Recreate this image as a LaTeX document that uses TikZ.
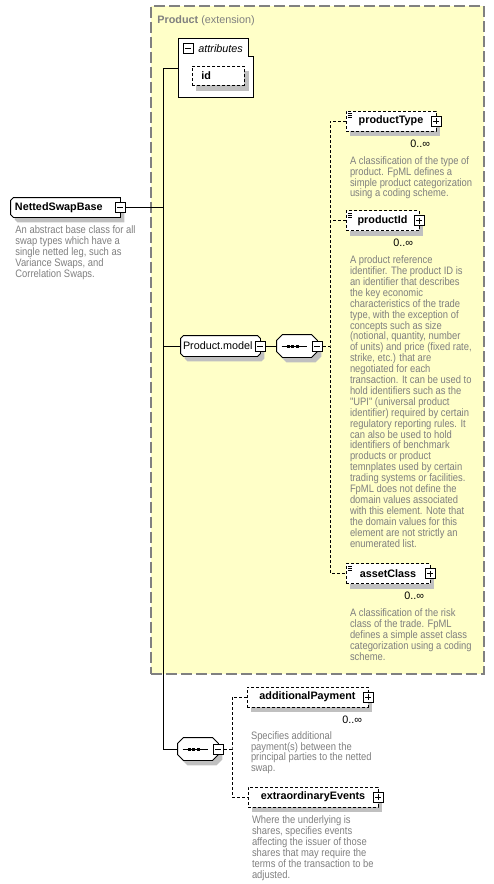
\documentclass[tikz,border=0pt]{standalone}
\usepackage{fontspec}
\setmainfont{Liberation Sans}
\newfontfamily\docfont{Liberation Sans}[FakeStretch=0.87]
\usetikzlibrary{positioning,backgrounds}

\definecolor{grpyellow}{HTML}{FFFFC8}
\definecolor{grpborder}{HTML}{808080}
\definecolor{docgray}{HTML}{7F7F7F}
\definecolor{shadegray}{HTML}{C0C0C0}

% outline with cut corners: node, left cut, right cut
\newcommand{\chamferpath}[3]{([xshift=#2]#1.north west) -- ([xshift=-#3]#1.north east) -- ([yshift=-#3]#1.north east) -- ([yshift=#3]#1.south east) -- ([xshift=-#3]#1.south east) -- ([xshift=#2]#1.south west) -- ([yshift=#2]#1.south west) -- ([yshift=-#2]#1.north west) -- cycle}
\newcommand{\chamferbox}[3]{%
    \fill[shadegray, transform canvas={shift={(4pt,-5pt)}}] \chamferpath{#1}{#2}{#3};
    \draw[fill=white, line width=0.9pt] \chamferpath{#1}{#2}{#3};}
\newcommand{\boxshade}[1]{\fill[shadegray] ([shift={(4pt,-5pt)}]#1.north west) rectangle ([shift={(4pt,-5pt)}]#1.south east);}

\begin{document}
\begin{tikzpicture}[x=1pt, y=-1pt, font=\fontsize{10.8}{12}\selectfont, line width=0.9pt]
    % Define styles
    \tikzstyle{elem}=[rectangle, draw=black, fill=white, dash pattern=on 3pt off 2pt, inner sep=0pt, minimum height=20pt, font=\fontsize{10.8}{12}\selectfont\bfseries]
    \tikzstyle{typebox}=[rectangle, inner sep=0pt, minimum height=20pt, align=left]
    \tikzstyle{seqbox}=[rectangle, inner sep=0pt, minimum width=40pt, minimum height=22pt]
    \tikzstyle{minusbox}=[rectangle, draw=black, solid, fill=white, minimum size=10pt, inner sep=0pt,
        path picture={\draw[line width=1pt] ([xshift=2pt]path picture bounding box.west) -- ([xshift=-2pt]path picture bounding box.east);}]
    \tikzstyle{plusbox}=[minusbox,
        path picture={\draw[line width=1pt] ([xshift=2pt]path picture bounding box.west) -- ([xshift=-2pt]path picture bounding box.east);
            \draw[line width=1pt] ([yshift=-2pt]path picture bounding box.north) -- ([yshift=2pt]path picture bounding box.south);}]
    \tikzstyle{simpleicon}=[path picture={\foreach \k in {2.5,4.5,6.5} \draw[solid, line width=0.7pt] ([shift={(2pt,-\k pt)}]path picture bounding box.north west) -- ++(4pt,0pt);}]
    \tikzstyle{desc}=[text=docgray, align=left, inner sep=0pt, font=\docfont\fontsize{10.8}{10.9}\selectfont]
    \tikzstyle{mult}=[inner sep=0pt, font=\fontsize{10.8}{12}\selectfont]
    \tikzstyle{conn}=[draw=black, line width=0.9pt]
    \tikzstyle{optconn}=[conn, dash pattern=on 3pt off 2pt]

    \useasboundingbox (0,0) rectangle (494,884);

    % Product extension area
    \begin{scope}[on background layer]
        \node[draw=grpborder, fill=grpyellow, line width=1.5pt, dash pattern=on 11pt off 4pt, minimum width=333pt, minimum height=668pt, anchor=north west, inner sep=0pt] (grp) at (150,5) {};
        \draw[fill=white] (178,38) -- (248,38) -- (248,56) -- (253,56) -- (253,97) -- (178,97) -- cycle;
    \end{scope}
    \node[anchor=base west, text=docgray, inner sep=0pt] (grptitle) at (157,23.3) {\textbf{Product} (extension)};

    % Attributes
    \node[minusbox] (attrm) at (188,48) {};
    \node[anchor=base west, inner sep=0pt, font=\fontsize{10.8}{12}\selectfont\itshape] (attrlbl) at (198,52.5) {attributes};
    \node[elem, minimum width=52pt, minimum height=19pt, text width=34pt, inner xsep=9pt, align=left, anchor=north west] (idattr) at (192,66) {id};

    % Base type
    \node[typebox, minimum width=109pt, minimum height=19pt, text width=101pt, inner xsep=4pt, font=\fontsize{10.8}{12}\selectfont\bfseries] (nsb) at (65.5,207.5) {NettedSwapBase};
    \node[minusbox] (nsbm) at (nsb.east) {};
    \node[desc, anchor=north west] (nsbdoc) at (15,225.4) {An abstract base class for all\\swap types which have a\\single netted leg, such as\\Variance Swaps, and\\Correlation Swaps.};

    % Product.model group
    \node[typebox, minimum width=79pt, text width=75pt, inner xsep=2pt] (pm) at (220.5,346) {Product.model};
    \node[minusbox] (pmm) at (pm.east) {};
    \node[seqbox] (seq1) at (297,346) {};
    \node[minusbox] (seq1m) at (seq1.east) {};

    \node[elem, simpleicon, minimum width=90pt] (ptype) at (391,121) {productType};
    \node[plusbox] (ptypep) at (ptype.east) {};
    \node[mult, below left=8pt and 6pt of ptype.south east] (ptypemult) {0..∞};
    \node[desc, below right=24.5pt and 4pt of ptype.south west] (ptypedoc) {A classification of the type of\\product. FpML defines a\\simple product categorization\\using a coding scheme.};

    \node[elem, simpleicon, minimum width=73pt] (pid) at (382.5,220.5) {productId};
    \node[plusbox] (pidp) at (pid.east) {};
    \node[mult, below left=8pt and 6pt of pid.south east] (pidmult) {0..∞};
    \node[desc, below right=24.4pt and 4pt of pid.south west] (piddoc) {A product reference\\identifier. The product ID is\\an identifier that describes\\the key economic\\characteristics of the trade\\type, with the exception of\\concepts such as size\\(notional, quantity, number\\of units) and price (fixed rate,\\strike, etc.) that are\\negotiated for each\\transaction. It can be used to\\hold identifiers such as the\\"UPI" (universal product\\identifier) required by certain\\regulatory reporting rules. It\\can also be used to hold\\identifiers of benchmark\\products or product\\temnplates used by certain\\trading systems or facilities.\\FpML does not define the\\domain values associated\\with this element. Note that\\the domain values for this\\element are not strictly an\\enumerated list.};

    \node[elem, simpleicon, minimum width=84pt] (aclass) at (388,573.5) {assetClass};
    \node[plusbox] (aclassp) at (aclass.east) {};
    \node[mult, below left=8pt and 6pt of aclass.south east] (aclassmult) {0..∞};
    \node[desc, below right=24.4pt and 4pt of aclass.south west] (aclassdoc) {A classification of the risk\\class of the trade. FpML\\defines a simple asset class\\categorization using a coding\\scheme.};

    % Own sequence
    \node[seqbox] (seq2) at (198,749) {};
    \node[minusbox] (seq2m) at (seq2.east) {};

    \node[elem, minimum width=121pt] (addpay) at (307.5,697) {additionalPayment};
    \node[plusbox] (addpayp) at (addpay.east) {};
    \node[mult, below left=8pt and 6pt of addpay.south east] (addpaymult) {0..∞};
    \node[desc, below right=23.4pt and 4pt of addpay.south west] (addpaydoc) {Specifies additional\\payment(s) between the\\principal parties to the netted\\swap.};

    \node[elem, minimum width=130pt] (extra) at (313,797) {extraordinaryEvents};
    \node[plusbox] (extrap) at (extra.east) {};
    \node[desc, below right=7.8pt and 4pt of extra.south west] (extradoc) {Where the underlying is\\shares, specifies events\\affecting the issuer of those\\shares that may require the\\terms of the transaction to be\\adjusted.};

    % Outlines and shadows
    \begin{scope}[on background layer]
        \boxshade{idattr}
        \boxshade{ptype}
        \boxshade{pid}
        \boxshade{aclass}
        \boxshade{addpay}
        \boxshade{extra}
        \chamferbox{nsb}{3pt}{0pt}
        \chamferbox{pm}{3pt}{3pt}
        \chamferbox{seq1}{6pt}{6pt}
        \chamferbox{seq2}{6pt}{6pt}
    \end{scope}

    % Sequence marks
    \foreach \s in {seq1,seq2} {
        \draw[line width=1pt] ([xshift=5pt]\s.west) -- ([xshift=-10pt]\s.east);
        \foreach \d in {-9,-4.5,0}
            \fill ([xshift=\d pt]\s.center) ++(-1.5pt,-1.5pt) rectangle ++(3pt,3pt);
    }

    % Connections
    \coordinate (trunk) at (163,68);
    \coordinate (attrin) at (178,68);
    \coordinate (bus1) at (330,346);
    \coordinate (bus2) at (232,749);
    \draw[conn] (trunk) -- (attrin);
    \draw[conn] (trunk) |- (seq2.west);
    \draw[conn] (nsbm.east) -- (nsbm.east -| trunk);
    \draw[conn] (pm.west -| trunk) -- (pm.west);
    \draw[conn] (pmm.east) -- (seq1.west);
    \draw[optconn] (seq1m.east) -- (bus1);
    \draw[optconn] (ptype.west) -| (bus1) |- (aclass.west);
    \draw[optconn] (pid.west) -- (pid.west -| bus1);
    \draw[optconn] (seq2m.east) -- (bus2);
    \draw[optconn] (addpay.west) -| (bus2) |- (extra.west);
\end{tikzpicture}
\end{document}
